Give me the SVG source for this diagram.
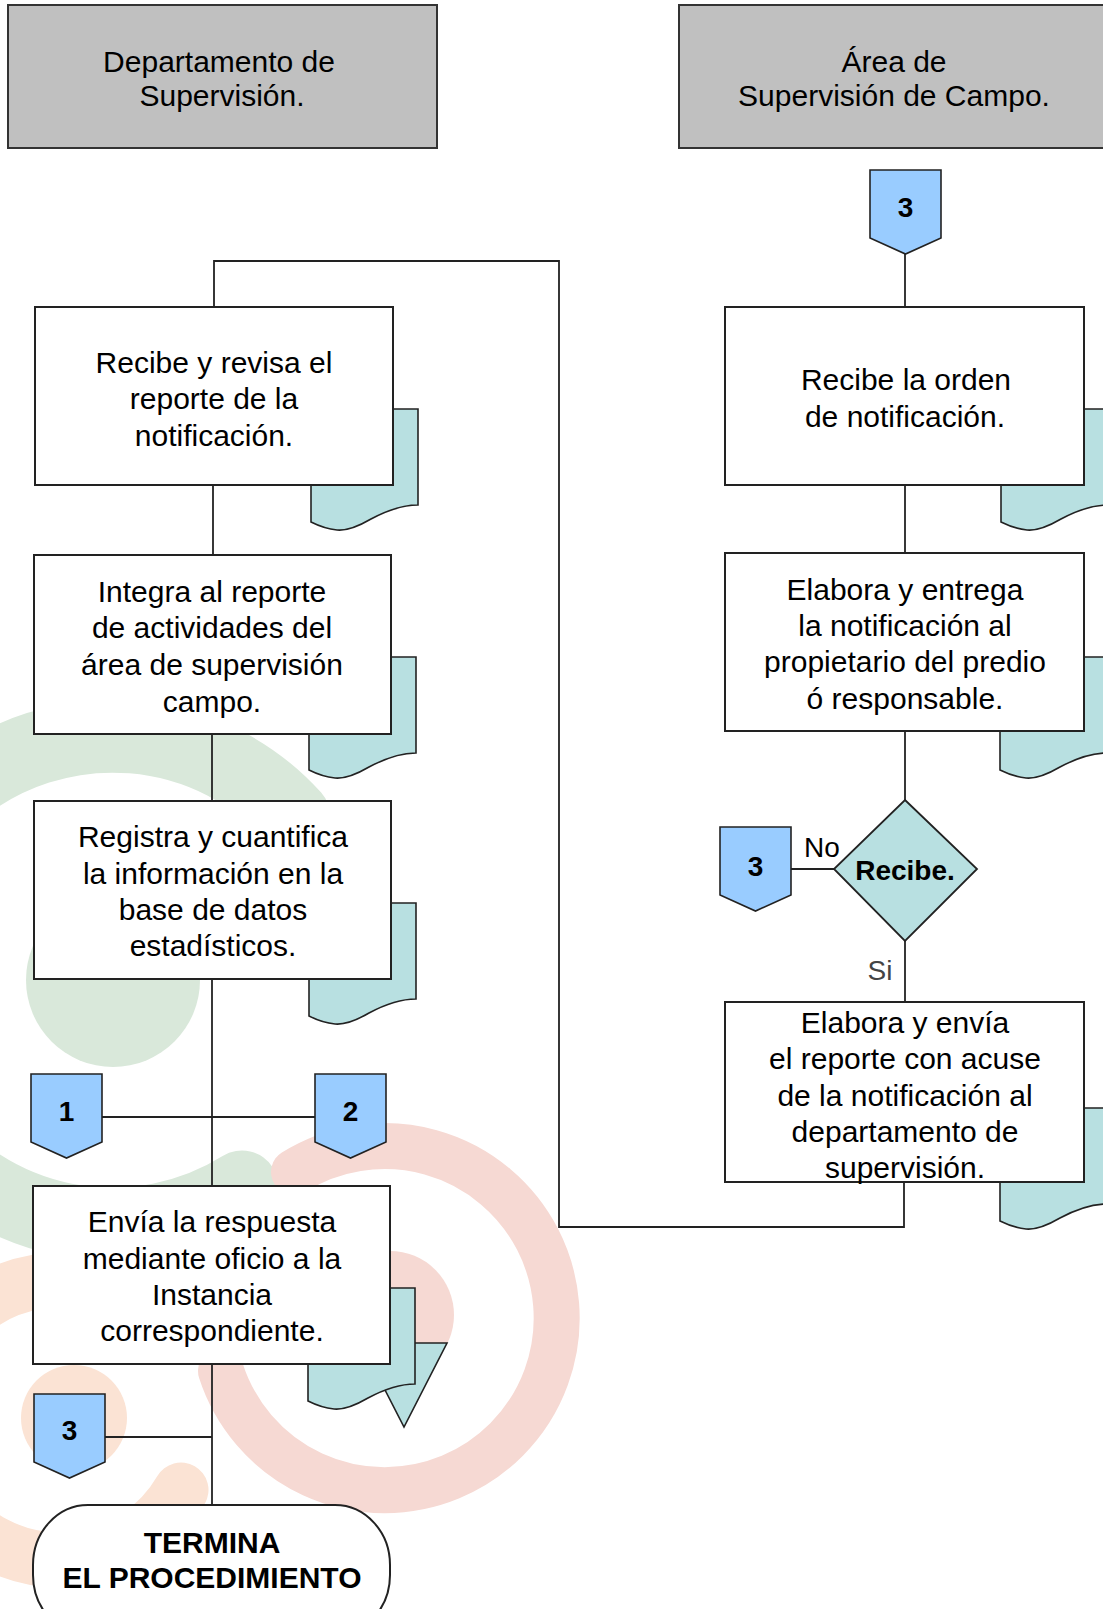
<svg xmlns="http://www.w3.org/2000/svg" xmlns:xlink="http://www.w3.org/1999/xlink" width="1103" height="1609" viewBox="0 0 1103 1609">
<style>
.hdr{fill:#c0c0c0;stroke:#333;stroke-width:2}
.box{fill:#fff;stroke:#222;stroke-width:2}
.doc{fill:#b8e0e1;stroke:#222;stroke-width:1.6}
.conn{fill:#99ccff;stroke:#222;stroke-width:1.6}
.dia{fill:#b8e0e1;stroke:#222;stroke-width:1.8}
.ln{stroke:#222;stroke-width:1.8;fill:none}
.t{font-family:"Liberation Sans",Arial,Helvetica,sans-serif;font-size:30px;text-anchor:middle;fill:#000}
.n{font-family:"Liberation Sans",Arial,Helvetica,sans-serif;font-size:28px;font-weight:bold;text-anchor:middle;fill:#000}
.b{font-weight:bold}
.wm{fill:none}
</style>
<defs>
<path id="docp" d="M0,0 H107 V96 C90,96 75,102 60,110 C48,117 36,122 26,121 C16,120 8,117 0,113 Z"/>
<path id="conp" d="M0,0 H71 V68 L35.5,84 L0,68 Z"/>
</defs>
<rect width="1103" height="1609" fill="#fff"/>
<g id="watermark">
<path class="wm" d="M294,817 A244,244 0 1 0 242,1187" stroke="#d9e8da" stroke-width="73" stroke-linecap="round"/>
<circle cx="113" cy="980" r="87" fill="#d9e8da"/>
<path class="wm" d="M294,1172 A172,172 0 1 1 221,1371" stroke="#f6d9d3" stroke-width="46" stroke-linecap="round"/>
<circle cx="390" cy="1315" r="64" fill="#f6d9d3"/>
<path class="wm" d="M36,1282 A140,140 0 1 0 181,1490" stroke="#fbe3d4" stroke-width="55" stroke-linecap="round"/>
<circle cx="74" cy="1418" r="53" fill="#fbe3d4"/>
</g>
<g id="connectors">
<polyline class="ln" points="214,307 214,261 559,261 559,1227 904,1227 904,1182"/>
<line class="ln" x1="213" y1="485" x2="213" y2="555"/>
<line class="ln" x1="212" y1="734" x2="212" y2="801"/>
<line class="ln" x1="212" y1="979" x2="212" y2="1186"/>
<line class="ln" x1="102" y1="1117" x2="315" y2="1117"/>
<line class="ln" x1="212" y1="1364" x2="212" y2="1505"/>
<line class="ln" x1="105" y1="1437" x2="212" y2="1437"/>
<line class="ln" x1="905" y1="254" x2="905" y2="307"/>
<line class="ln" x1="905" y1="485" x2="905" y2="553"/>
<line class="ln" x1="905" y1="731" x2="905" y2="800"/>
<line class="ln" x1="905" y1="941" x2="905" y2="1002"/>
<line class="ln" x1="791" y1="869" x2="834" y2="869"/>
<text class="t" x="822" y="857" style="font-size:28px">No</text>
<text class="t" x="880" y="980" style="font-size:28px;fill:#444">Si</text>
</g>
<g id="hdr-left">
<rect class="hdr" x="8" y="5" width="429" height="143"/>
<text class="t" x="219" y="72">Departamento de</text>
<text class="t" x="222" y="106">Supervisión.</text>
</g>
<g id="hdr-right">
<rect class="hdr" x="679" y="5" width="430" height="143"/>
<text class="t" x="894" y="72">Área de</text>
<text class="t" x="894" y="106">Supervisión de Campo.</text>
</g>
<g id="c3-top">
<use href="#conp" class="conn" x="870" y="170"/>
<text class="n" x="905.5" y="217">3</text>
</g>
<g id="n-recibe-revisa">
<use href="#docp" class="doc" x="311" y="409"/>
<rect class="box" x="35" y="307" width="358" height="178"/>
<text class="t" x="214" y="373">Recibe y revisa el</text>
<text class="t" x="214" y="409">reporte de la</text>
<text class="t" x="214" y="446">notificación.</text>
</g>
<g id="n-integra">
<use href="#docp" class="doc" x="309" y="657"/>
<rect class="box" x="34" y="555" width="357" height="179"/>
<text class="t" x="212" y="602">Integra al reporte</text>
<text class="t" x="212" y="638">de actividades del</text>
<text class="t" x="212" y="675">área de supervisión</text>
<text class="t" x="212" y="712">campo.</text>
</g>
<g id="n-registra">
<use href="#docp" class="doc" x="309" y="903"/>
<rect class="box" x="34" y="801" width="357" height="178"/>
<text class="t" x="213" y="847">Registra y cuantifica</text>
<text class="t" x="213" y="884">la información en la</text>
<text class="t" x="213" y="920">base de datos</text>
<text class="t" x="213" y="956">estadísticos.</text>
</g>
<g id="c1">
<use href="#conp" class="conn" x="31" y="1074"/>
<text class="n" x="66.5" y="1121">1</text>
</g>
<g id="c2">
<use href="#conp" class="conn" x="315" y="1074"/>
<text class="n" x="350.5" y="1121">2</text>
</g>
<g id="n-envia">
<polygon class="doc" points="361,1343 447,1343 404,1427"/>
<use href="#docp" class="doc" x="308" y="1288"/>
<rect class="box" x="33" y="1186" width="357" height="178"/>
<text class="t" x="212" y="1232">Envía la respuesta</text>
<text class="t" x="212" y="1269">mediante oficio a la</text>
<text class="t" x="212" y="1305">Instancia</text>
<text class="t" x="212" y="1341">correspondiente.</text>
</g>
<g id="c3-bottom">
<use href="#conp" class="conn" x="34" y="1394"/>
<text class="n" x="69.5" y="1440">3</text>
</g>
<g id="n-termina">
<rect class="box" x="33" y="1505" width="357" height="130" rx="55" ry="60"/>
<text class="t b" x="212" y="1553">TERMINA</text>
<text class="t b" x="212" y="1588">EL PROCEDIMIENTO</text>
</g>
<g id="n-recibe-orden">
<use href="#docp" class="doc" x="1001" y="409"/>
<rect class="box" x="725" y="307" width="359" height="178"/>
<text class="t" x="906" y="390">Recibe la orden</text>
<text class="t" x="905" y="427">de notificación.</text>
</g>
<g id="n-elabora-entrega">
<use href="#docp" class="doc" x="1000" y="657"/>
<rect class="box" x="725" y="553" width="359" height="178"/>
<text class="t" x="905" y="600">Elabora y entrega</text>
<text class="t" x="905" y="636">la notificación al</text>
<text class="t" x="905" y="672">propietario del predio</text>
<text class="t" x="905" y="709">ó responsable.</text>
</g>
<g id="d-recibe">
<polygon class="dia" points="905,800 977,869 905,941 834,869"/>
<text class="t b" x="905" y="880" style="font-size:28px">Recibe.</text>
</g>
<g id="c3-no">
<use href="#conp" class="conn" x="720" y="827"/>
<text class="n" x="755.5" y="876">3</text>
</g>
<g id="n-elabora-envia">
<use href="#docp" class="doc" x="1000" y="1108"/>
<rect class="box" x="725" y="1002" width="359" height="180"/>
<text class="t" x="905" y="1033">Elabora y envía</text>
<text class="t" x="905" y="1069">el reporte con acuse</text>
<text class="t" x="905" y="1106">de la notificación al</text>
<text class="t" x="905" y="1142">departamento de</text>
<text class="t" x="905" y="1178">supervisión.</text>
</g>
</svg>
